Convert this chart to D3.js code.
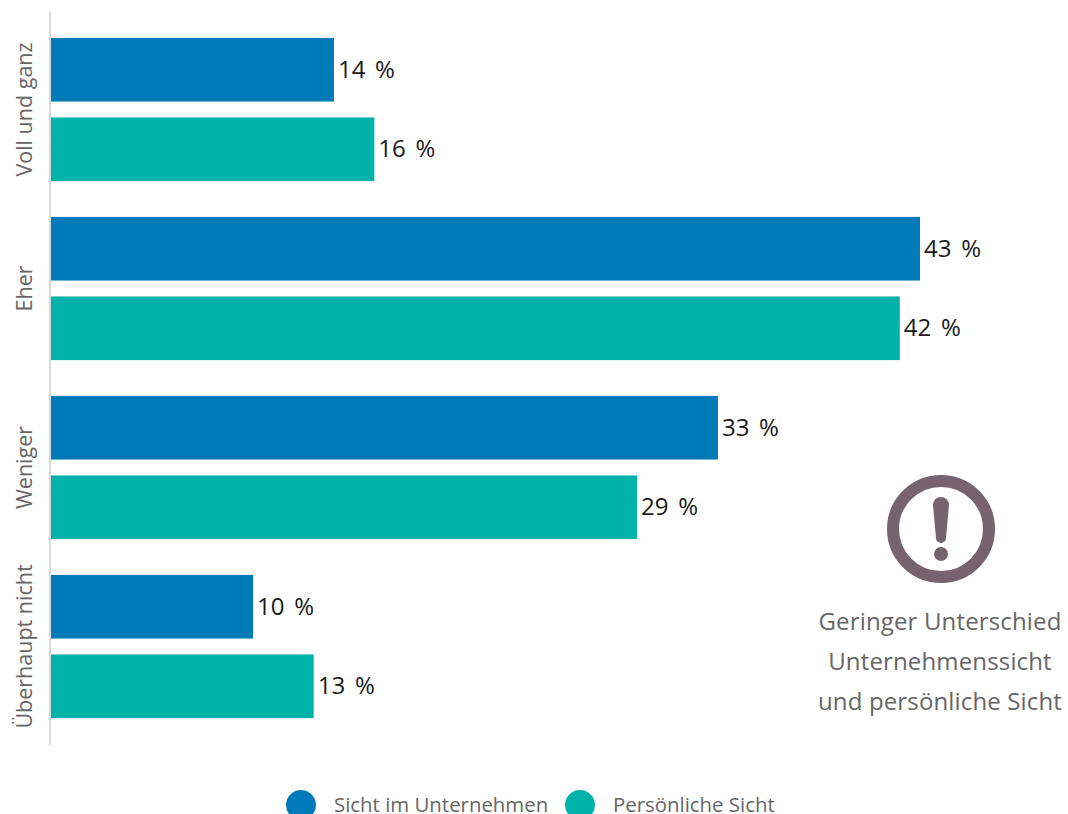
<!DOCTYPE html>
<html lang="de">
<head>
<meta charset="utf-8">
<script src="https://cdn.jsdelivr.net/npm/d3@7"></script>
<style>
  html, body { margin: 0; padding: 0; background: #fff; overflow: hidden; }
  svg { display: block; font-family: "Open Sans", "Noto Sans", sans-serif; }
</style>
</head>
<body>
<svg id="chart" width="1068" height="814"></svg>
<script>
const categories = ["Voll und ganz", "Eher", "Weniger", "Überhaupt nicht"];
const seriesNames = ["Sicht im Unternehmen", "Persönliche Sicht"];
const seriesColors = ["#007ab8", "#00b2a9"];
const unternehmenValues = [14, 43, 33, 10];
const persoenlichValues = [16, 42, 29, 13];
const noteLines = ["Geringer Unterschied", "Unternehmenssicht", "und persönliche Sicht"];

const svg = d3.select("#chart");
const seriesValues = [unternehmenValues, persoenlichValues];

const x = d3.scaleLinear().domain([0, 43]).range([51, 920]);
const yGroup = d3.scaleBand().domain(categories).range([20, 736])
  .paddingInner(0.2).paddingOuter(0.1);
const ySeries = d3.scaleBand().domain(seriesNames).range([0, yGroup.bandwidth()])
  .paddingInner(0.2);

// Category axis: plain grey spine with rotated labels
svg.append("line")
  .attr("x1", 50).attr("x2", 50).attr("y1", 12).attr("y2", 745)
  .attr("stroke", "#d8d8d8").attr("stroke-width", 2);

svg.append("g").selectAll("text").data(categories).join("text")
  .attr("transform", d => `translate(32,${yGroup(d) + yGroup.bandwidth() / 2}) rotate(-90)`)
  .attr("text-anchor", "middle")
  .attr("font-size", 21.5)
  .attr("fill", "#666")
  .text(d => d);

// Bars and their value labels, one group per category
const groups = svg.append("g").selectAll("g").data(categories).join("g")
  .attr("transform", d => `translate(0,${yGroup(d)})`);

groups.each(function (cat, i) {
  const rows = seriesNames.map((name, s) => ({ name, color: seriesColors[s], value: seriesValues[s][i] }));
  const g = d3.select(this);
  g.selectAll("rect").data(rows).join("rect")
    .attr("x", x(0))
    .attr("y", d => ySeries(d.name))
    .attr("width", d => x(d.value) - x(0))
    .attr("height", ySeries.bandwidth())
    .attr("fill", d => d.color);
  g.selectAll("text").data(rows).join("text")
    .attr("x", d => x(d.value) + 4)
    .attr("y", d => ySeries(d.name) + ySeries.bandwidth() / 2 + 8)
    .attr("font-size", 24)
    .attr("word-spacing", 3.5)
    .attr("fill", "#1a1a1a")
    .text(d => `${d.value} %`);
});

// Exclamation-mark icon above the note
const icon = svg.append("g").attr("transform", "translate(941,529)").attr("fill", "#77636e");
icon.append("circle").attr("r", 48).attr("fill", "none")
  .attr("stroke", "#77636e").attr("stroke-width", 12);
icon.append("path")
  .attr("d", "M-8,-24 a8,8 0 0 1 16,0 L5,9 a5,5 0 0 1 -10,0 Z");
icon.append("circle").attr("cy", 25).attr("r", 7);

svg.append("g").selectAll("text").data(noteLines).join("text")
  .attr("x", 940)
  .attr("y", (d, i) => 630 + i * 40)
  .attr("text-anchor", "middle")
  .attr("font-size", 24)
  .attr("letter-spacing", 0.15)
  .attr("fill", "#666")
  .text(d => d);

// Legend along the bottom edge
const legendX = [301, 580];
const legend = svg.append("g").selectAll("g").data(seriesNames).join("g")
  .attr("transform", (d, i) => `translate(${legendX[i]},805)`);
legend.append("circle").attr("r", 15).attr("fill", (d, i) => seriesColors[i]);
legend.append("text").attr("x", 33).attr("y", 6.5)
  .attr("font-size", 20.4).attr("fill", "#666").text(d => d);
</script>
</body>
</html>
